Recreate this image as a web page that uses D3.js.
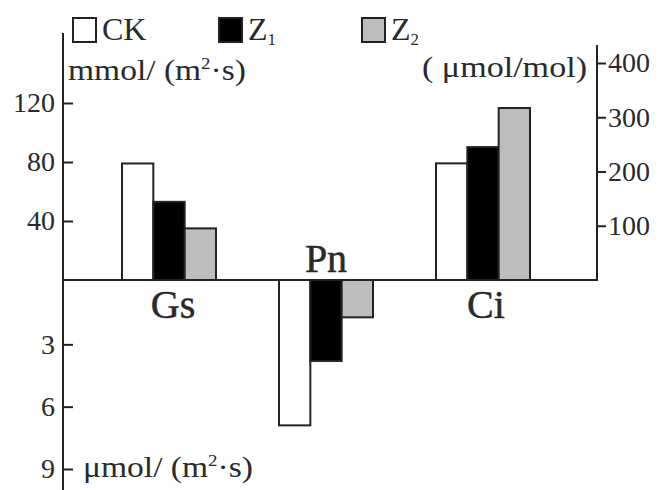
<!DOCTYPE html>
<html>
<head>
<meta charset="utf-8">
<script src="https://cdn.jsdelivr.net/npm/d3@7"></script>
<style>
  body { margin: 0; background: #fff; }
  text { fill: #2a2a2a; }
</style>
</head>
<body>
<div id="container"></div>
<script>
let fontFam = "'Liberation Serif', 'DejaVu Serif', serif";

// groups and series
let groups = ["Gs", "Pn", "Ci"];
let series = ["CK", "Z1", "Z2"];
let colors = ["#ffffff", "#000000", "#bdbdbd"];

// values
let gsValues = [79, 53, 35];      // mmol/(m2·s), upper left axis
let pnValues = [6.9, 3.8, 1.7];   // µmol/(m2·s), lower left axis (downward)
let ciValues = [215, 245, 317];   // µmol/mol, right axis

let gsTicks = [40, 80, 120];
let pnTicks = [3, 6, 9];
let ciTicks = [100, 200, 300, 400];

let w = 662;
let h = 490;
let zeroY = 280;
let leftX = 63;
let rightX = 597;

let viz = d3.select("#container")
  .append("svg")
    .attr("width", w)
    .attr("height", h)
    .style("font-family", fontFam)
;

let xCenter = d3.scalePoint().domain(groups).range([169, 483]);
let xInner = d3.scaleBand().domain(series).range([-47, 47]);

let yGs = d3.scaleLinear().domain([0, 120]).range([zeroY, 103]);
let yPn = d3.scaleLinear().domain([0, 9]).range([282, 469]);
let yCi = d3.scaleLinear().domain([0, 400]).range([zeroY, 63]);

let data = [];
groups.forEach(function(g){
  series.forEach(function(s, i){
    let v, y0, y1;
    if (g === "Gs"){ v = gsValues[i]; y0 = yGs(v); y1 = zeroY; }
    else if (g === "Pn"){ v = pnValues[i]; y0 = zeroY; y1 = yPn(v); }
    else { v = ciValues[i]; y0 = yCi(v); y1 = zeroY; }
    data.push({group: g, series: s, i: i, value: v, y0: y0, y1: y1});
  });
});

// bars
viz.append("g").selectAll("rect").data(data).enter()
  .append("rect")
    .attr("x", function(d){ return xCenter(d.group) + xInner(d.series); })
    .attr("width", xInner.bandwidth())
    .attr("y", function(d){ return d.y0; })
    .attr("height", function(d){ return d.y1 - d.y0; })
    .attr("fill", function(d){ return colors[d.i]; })
    .attr("stroke", "#222")
    .attr("stroke-width", 2)
;

// zero line and axis lines
viz.append("line").attr("x1", leftX).attr("x2", rightX).attr("y1", zeroY).attr("y2", zeroY)
  .attr("stroke", "#222").attr("stroke-width", 2);
viz.append("line").attr("x1", leftX).attr("x2", leftX).attr("y1", 33).attr("y2", h)
  .attr("stroke", "#222").attr("stroke-width", 2);
viz.append("line").attr("x1", rightX).attr("x2", rightX).attr("y1", 45).attr("y2", zeroY + 1)
  .attr("stroke", "#222").attr("stroke-width", 2);

function styleAxis(g){
  g.attr("font-family", null).attr("font-size", null);
  g.select(".domain").remove();
  g.selectAll(".tick line").attr("stroke", "#222").attr("stroke-width", 2);
  g.selectAll(".tick text")
    .style("font-family", fontFam)
    .style("font-size", "28px")
    .attr("fill", "#2a2a2a");
}

viz.append("g")
  .attr("transform", "translate(" + leftX + ",0)")
  .call(d3.axisLeft(yGs).tickValues(gsTicks).tickSizeInner(-10).tickSizeOuter(0).tickPadding(8))
  .call(styleAxis);

viz.append("g")
  .attr("transform", "translate(" + leftX + ",0)")
  .call(d3.axisLeft(yPn).tickValues(pnTicks).tickSizeInner(-10).tickSizeOuter(0).tickPadding(8))
  .call(styleAxis);

viz.append("g")
  .attr("transform", "translate(" + rightX + ",0)")
  .call(d3.axisRight(yCi).tickValues(ciTicks).tickSizeInner(9).tickSizeOuter(0).tickPadding(2))
  .call(styleAxis);

// group labels
viz.append("text").attr("x", xCenter("Gs") + 4).attr("y", 318).attr("text-anchor", "middle")
  .style("font-size", "40px").attr("stroke", "#2a2a2a").attr("stroke-width", 0.5).text("Gs");
viz.append("text").attr("x", xCenter("Pn")).attr("y", 272).attr("text-anchor", "middle")
  .style("font-size", "40px").attr("stroke", "#2a2a2a").attr("stroke-width", 0.5).text("Pn");
viz.append("text").attr("x", xCenter("Ci") + 3).attr("y", 318).attr("text-anchor", "middle")
  .style("font-size", "40px").attr("stroke", "#2a2a2a").attr("stroke-width", 0.5).text("Ci");

// unit labels
function unitLabel(x, y, prefix, len){
  let t = viz.append("text").attr("x", x).attr("y", y).style("font-size", "30px")
    .attr("textLength", len).attr("lengthAdjust", "spacingAndGlyphs");
  t.append("tspan").text(prefix + "/ (m");
  t.append("tspan").attr("dy", -11).style("font-size", "17px").text("2");
  t.append("tspan").attr("dy", 11).text("\u00b7s)");
}
unitLabel(68, 80, "mmol", 178);
unitLabel(83, 477, "\u03bcmol", 170);

viz.append("text").attr("x", 422).attr("y", 77)
  .style("font-size", "30px").attr("textLength", 165).attr("lengthAdjust", "spacingAndGlyphs")
  .text("( \u03bcmol/mol)");

// legend
let legendX = [72, 218, 361];
let legendLabels = [["CK", ""], ["Z", "1"], ["Z", "2"]];
let legend = viz.append("g").selectAll("g").data(series).enter()
  .append("g")
    .attr("transform", function(d, i){ return "translate(" + legendX[i] + ",17)"; })
;
legend.append("rect")
  .attr("x", 1).attr("y", 1).attr("width", 23).attr("height", 24)
  .attr("fill", function(d, i){ return colors[i]; })
  .attr("stroke", "#222").attr("stroke-width", 2);
let lt = legend.append("text").attr("x", 30).attr("y", 23).style("font-size", "32px");
lt.append("tspan").text(function(d, i){ return legendLabels[i][0]; });
lt.append("tspan").attr("dy", 5).style("font-size", "17px").text(function(d, i){ return legendLabels[i][1]; });
</script>
</body>
</html>
